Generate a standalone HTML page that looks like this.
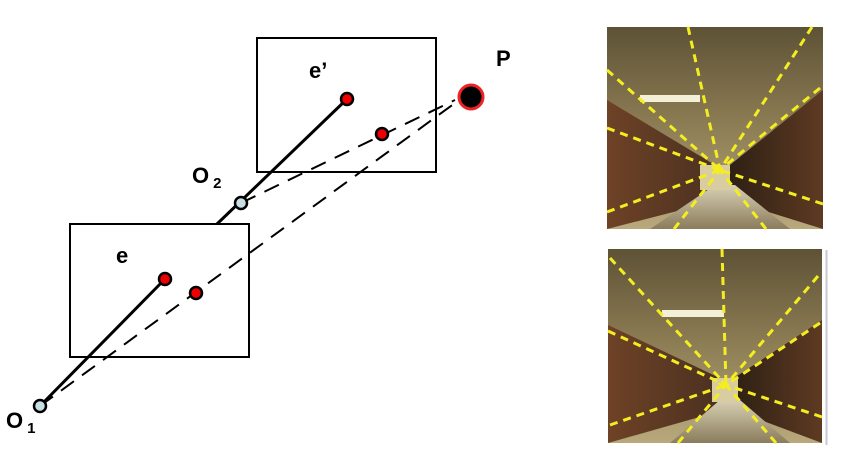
<!DOCTYPE html>
<html><head><meta charset="utf-8"><style>
html,body{margin:0;padding:0;background:#fff;width:842px;height:459px;overflow:hidden}
text{font-family:"Liberation Sans",sans-serif;font-weight:bold;fill:#000}
</style></head><body>
<svg width="842" height="459" viewBox="0 0 842 459" xmlns="http://www.w3.org/2000/svg">
<defs>
<linearGradient id="ceil" x1="0" y1="0" x2="0" y2="1"><stop offset="0" stop-color="#5e5236"/><stop offset="0.5" stop-color="#8e7e55"/><stop offset="1" stop-color="#b8a87c"/></linearGradient>
<linearGradient id="wallL" x1="0" y1="0" x2="1" y2="0"><stop offset="0" stop-color="#6e4226"/><stop offset="1" stop-color="#4a3020"/></linearGradient>
<linearGradient id="wallR" x1="0" y1="0" x2="1" y2="0"><stop offset="0" stop-color="#2e2014"/><stop offset="1" stop-color="#5e3a22"/></linearGradient>
<linearGradient id="floor" x1="0" y1="0" x2="0" y2="1"><stop offset="0" stop-color="#d8d0b4"/><stop offset="1" stop-color="#8a7c5c"/></linearGradient>
</defs>
<g>
<rect x="257" y="38" width="179" height="134" fill="none" stroke="#000" stroke-width="2"/>
<rect x="70" y="224" width="179" height="133" fill="none" stroke="#000" stroke-width="2"/>
<g stroke="#000" stroke-width="2" stroke-dasharray="16,10" fill="none">
<line x1="40" y1="406" x2="455" y2="103"/>
<line x1="241" y1="203" x2="455" y2="100"/>
</g>
<g stroke="#000" stroke-width="3">
<line x1="40" y1="406" x2="165" y2="279"/>
<line x1="217" y1="224" x2="347" y2="99"/>
</g>
<circle cx="40" cy="406" r="6" fill="#c8e0e4" stroke="#000" stroke-width="2.5"/>
<circle cx="241" cy="203" r="6" fill="#c8e0e4" stroke="#000" stroke-width="2.5"/>
<circle cx="165" cy="279" r="6" fill="#e00" stroke="#000" stroke-width="2.5"/>
<circle cx="196" cy="293" r="6" fill="#e00" stroke="#000" stroke-width="2.5"/>
<circle cx="347" cy="99" r="6" fill="#e00" stroke="#000" stroke-width="2.5"/>
<circle cx="382" cy="134" r="6" fill="#e00" stroke="#000" stroke-width="2.5"/>
<circle cx="471" cy="97" r="12" fill="#000" stroke="#e22" stroke-width="3"/>
<text x="496" y="66" font-size="22">P</text>
<text x="309" y="78" font-size="22">e’</text>
<text x="116" y="263" font-size="22">e</text>
<text x="192" y="183" font-size="22">O<tspan font-size="15" dx="4" dy="5">2</tspan></text>
<text x="6" y="428" font-size="22">O<tspan font-size="15" dx="4" dy="5">1</tspan></text>
</g>
<g>
<rect x="607" y="27" width="216" height="202" fill="url(#ceil)"/>
<polygon points="607,100 720,168 720,200 607,229" fill="url(#wallL)"/>
<polygon points="823,90 730,165 730,200 823,229" fill="url(#wallR)"/>
<polygon points="650,229 715,185 735,185 790,229" fill="url(#floor)"/>
<rect x="700" y="165" width="30" height="25" fill="#d8cca0"/>
<rect x="640" y="95" width="60" height="7" fill="#f4f0d8"/>
<g stroke="#f4ee20" stroke-width="3" stroke-dasharray="8,6">
<line x1="688" y1="27" x2="720" y2="170"/><line x1="812" y1="27" x2="720" y2="170"/>
<line x1="607" y1="70" x2="720" y2="170"/><line x1="820" y1="88" x2="720" y2="170"/>
<line x1="607" y1="128" x2="720" y2="170"/><line x1="823" y1="204" x2="720" y2="170"/>
<line x1="607" y1="212" x2="720" y2="170"/><line x1="674" y1="229" x2="720" y2="170"/>
<line x1="766" y1="229" x2="720" y2="170"/>
</g>
<text x="712" y="180" font-size="22" style="fill:#f4ee20">*</text>
</g>
<g>
<rect x="608" y="249" width="214" height="194" fill="url(#ceil)"/>
<polygon points="608,325 724,380 724,410 608,443" fill="url(#wallL)"/>
<polygon points="822,320 734,378 734,410 822,443" fill="url(#wallR)"/>
<polygon points="670,443 720,400 740,400 790,443" fill="url(#floor)"/>
<rect x="712" y="378" width="26" height="24" fill="#d8cca0"/>
<rect x="662" y="310" width="62" height="7" fill="#f4f0d8"/>
<g stroke="#f4ee20" stroke-width="3" stroke-dasharray="8,6">
<line x1="722" y1="249" x2="726" y2="385"/><line x1="818" y1="276" x2="726" y2="385"/>
<line x1="610" y1="258" x2="726" y2="385"/><line x1="820" y1="323" x2="726" y2="385"/>
<line x1="608" y1="331" x2="726" y2="385"/><line x1="822" y1="417" x2="726" y2="385"/>
<line x1="610" y1="425" x2="726" y2="385"/><line x1="678" y1="443" x2="726" y2="385"/>
<line x1="776" y1="443" x2="726" y2="385"/>
</g>
<text x="718" y="396" font-size="22" style="fill:#f4ee20">*</text>
</g>
<line x1="826.5" y1="250" x2="826.5" y2="445" stroke="#c8c8d0" stroke-width="2"/>
</svg>
</body></html>
